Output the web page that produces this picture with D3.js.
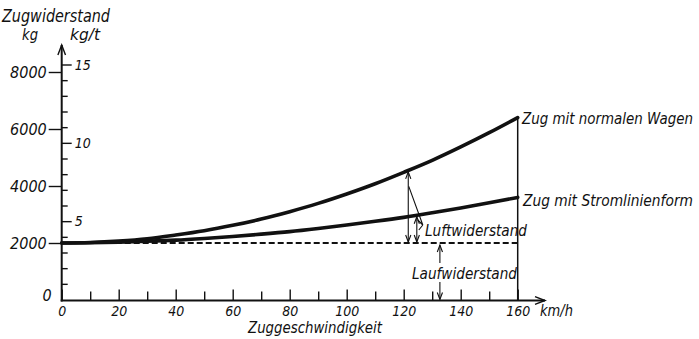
<!DOCTYPE html>
<html>
<head>
<meta charset="utf-8">
<script src="https://cdn.jsdelivr.net/npm/d3@7"></script>
<style>
  body { margin: 0; background: #fff; }
  text { font-family: "Liberation Sans Narrow", "DejaVu Sans Condensed", sans-serif; font-style: italic; fill: #111; }
</style>
</head>
<body>
<svg id="chart" width="699" height="339"></svg>
<script>
// Train resistance (kg) against speed (km/h)
const speeds       = [0, 10, 20, 30, 40, 50, 60, 70, 80, 90, 100, 110, 120, 130, 140, 150, 160];
const normalWagen  = [2000, 2020, 2070, 2150, 2280, 2430, 2620, 2840, 3100, 3390, 3720, 4080, 4480, 4900, 5370, 5870, 6400];
const stromlinie   = [2000, 2010, 2030, 2060, 2100, 2160, 2230, 2310, 2400, 2510, 2630, 2760, 2900, 3060, 3230, 3410, 3600];
const laufwiderstand = 2000;

const kgTicks    = [0, 2000, 4000, 6000, 8000];
const kgtTicks   = [0, 1, 2, 3, 4, 5, 6, 7, 8, 9, 10, 11, 12, 13, 14, 15];
const kgtLabels  = [5, 10, 15];
const speedTicks = [0, 10, 20, 30, 40, 50, 60, 70, 80, 90, 100, 110, 120, 130, 140, 150, 160];
const speedLabels = [0, 20, 40, 60, 80, 100, 120, 140, 160];

const svg = d3.select("#chart");

const x    = d3.scaleLinear().domain([0, 160]).range([61.7, 517.7]);
const yKg  = d3.scaleLinear().domain([0, 8000]).range([300, 72]);
const yKgt = d3.scaleLinear().domain([0, 15]).range([299.5, 64.5]);

const ink = "#111";

// ---- x axis ticks (pointing up) and labels
const xAxis = d3.axisBottom(x)
  .tickValues(speedTicks)
  .tickSize(-11)
  .tickPadding(3)
  .tickFormat(d => speedLabels.includes(d) ? d : "");
const gx = svg.append("g").attr("transform", "translate(0,300.5)").call(xAxis);
gx.select(".domain").remove();
gx.selectAll(".tick line")
  .attr("y2", d => speedLabels.includes(d) ? -11 : -9)
  .attr("stroke", ink).attr("stroke-width", 1.4);
gx.selectAll(".tick text").attr("font-size", 14).attr("fill", ink)
  .attr("font-family", null).attr("dy", "0.88em");

// ---- left kg axis
const yAxisL = d3.axisLeft(yKg).tickValues(kgTicks).tickSize(13).tickPadding(2).tickFormat(d => d);
const gl = svg.append("g").attr("transform", "translate(61.7,0)").call(yAxisL);
gl.select(".domain").remove();
gl.selectAll(".tick line").attr("stroke", ink).attr("stroke-width", 1.4)
  .attr("x2", d => d === 0 ? 0 : -13);
gl.selectAll(".tick text").attr("font-size", 16).attr("fill", ink).attr("font-family", null)
  .attr("x", d => d === 0 ? -10 : -15)
  .attr("dy", d => d === 0 ? "0" : "0.34em");

// ---- right kg/t ticks on the same axis line
const yAxisR = d3.axisRight(yKgt).tickValues(kgtTicks).tickSize(6).tickPadding(4)
  .tickFormat(d => kgtLabels.includes(d) ? d : "");
const gr = svg.append("g").attr("transform", "translate(61.7,0)").call(yAxisR);
gr.select(".domain").remove();
gr.selectAll(".tick").filter(d => d === 0).remove();
gr.selectAll(".tick line").attr("stroke", ink).attr("stroke-width", 1.4)
  .attr("x2", d => kgtLabels.includes(d) ? 10 : 6);
gr.selectAll(".tick text").attr("font-size", 14).attr("fill", ink).attr("font-family", null)
  .attr("x", 13).attr("dy", "0.34em");

// ---- axis lines with open arrow heads
svg.append("line").attr("x1", x(0)).attr("x2", x(0)).attr("y1", 301.5).attr("y2", 45)
  .attr("stroke", ink).attr("stroke-width", 2);
svg.append("path").attr("d", `M${x(0) - 3.8},55 L${x(0)},45 L${x(0) + 3.8},55`)
  .attr("fill", "none").attr("stroke", ink).attr("stroke-width", 1.4);
svg.append("line").attr("x1", x(0) - 1).attr("x2", 545).attr("y1", 300.5).attr("y2", 300.5)
  .attr("stroke", ink).attr("stroke-width", 2);
svg.append("path").attr("d", `M535,296.7 L545,300.5 L535,304.3`)
  .attr("fill", "none").attr("stroke", ink).attr("stroke-width", 1.4);

// ---- vertical line at 160 km/h
svg.append("line")
  .attr("x1", x(160)).attr("x2", x(160))
  .attr("y1", yKg(normalWagen[normalWagen.length - 1])).attr("y2", 300.5)
  .attr("stroke", ink).attr("stroke-width", 1.5);

// ---- running resistance (dashed)
svg.append("line")
  .attr("x1", x(0)).attr("x2", x(160))
  .attr("y1", yKg(laufwiderstand)).attr("y2", yKg(laufwiderstand))
  .attr("stroke", ink).attr("stroke-width", 2).attr("stroke-dasharray", "6,3");

// ---- resistance curves
const line = d3.line().x((d, i) => x(speeds[i])).y(d => yKg(d)).curve(d3.curveMonotoneX);
[normalWagen, stromlinie].forEach(series => {
  svg.append("path").datum(series).attr("d", line)
    .attr("fill", "none").attr("stroke", ink).attr("stroke-width", 3.6).attr("stroke-linecap", "round");
});

// ---- annotation arrows
const atNormal = d3.scaleLinear().domain(speeds).range(normalWagen);
const atStrom  = d3.scaleLinear().domain(speeds).range(stromlinie);

function arrowHead(px, py, dir) { // dir: -1 up, +1 down
  return `M${px - 2.6},${py - dir * 7} L${px},${py} L${px + 2.6},${py - dir * 7}`;
}
function doubleArrow(xv, y1, y2) {
  const g = svg.append("g").attr("fill", "none").attr("stroke", ink).attr("stroke-width", 1.1);
  g.append("line").attr("x1", xv).attr("x2", xv).attr("y1", y1).attr("y2", y2);
  g.append("path").attr("d", arrowHead(xv, y1, -1));
  g.append("path").attr("d", arrowHead(xv, y2, 1));
}
const vA = 121.6, vB = 124.6, vL = 132.7;
doubleArrow(x(vA), yKg(atNormal(vA)) + 1.5, yKg(laufwiderstand) - 1);
doubleArrow(x(vB), yKg(atStrom(vB)) + 1.5, yKg(laufwiderstand) - 1);

// leader lines to the "Luftwiderstand" label
svg.append("path")
  .attr("d", `M${x(vA) + 0.5},${yKg(atNormal(vA)) + 16} L${x(vB) + 6},225 L${x(vB) + 1},220 M${x(vB) + 6},225 L${x(vB) + 2},230`)
  .attr("fill", "none").attr("stroke", ink).attr("stroke-width", 1.1);

// running resistance arrows (dashed line up, axis down)
const gL = svg.append("g").attr("fill", "none").attr("stroke", ink).attr("stroke-width", 1.1);
gL.append("line").attr("x1", x(vL)).attr("x2", x(vL)).attr("y1", 263).attr("y2", yKg(laufwiderstand) + 2);
gL.append("path").attr("d", arrowHead(x(vL), yKg(laufwiderstand) + 2, -1));
gL.append("line").attr("x1", x(vL)).attr("x2", x(vL)).attr("y1", 282).attr("y2", 299.5);
gL.append("path").attr("d", arrowHead(x(vL), 299.5, 1));

// ---- texts
function label(txt, xx, yy, size, len) {
  const t = svg.append("text").attr("x", xx).attr("y", yy).attr("font-size", size).text(txt);
  if (len) t.attr("textLength", len).attr("lengthAdjust", "spacingAndGlyphs");
  return t;
}
label("Zugwiderstand", 2, 22, 17, 108);
label("kg", 22, 40, 16, 16);
label("kg/t", 70, 40, 16, 30);
label("Zug mit normalen Wagen", 522, 124, 15, 171);
label("Zug mit Stromlinienform", 523, 206, 15, 170);
label("Luftwiderstand", 425, 236, 15, 102);
label("Laufwiderstand", 412, 279, 15, 105);
label("Zuggeschwindigkeit", 248, 333, 15, 134);
label("km/h", 540, 316, 15, 33);
</script>
</body>
</html>
